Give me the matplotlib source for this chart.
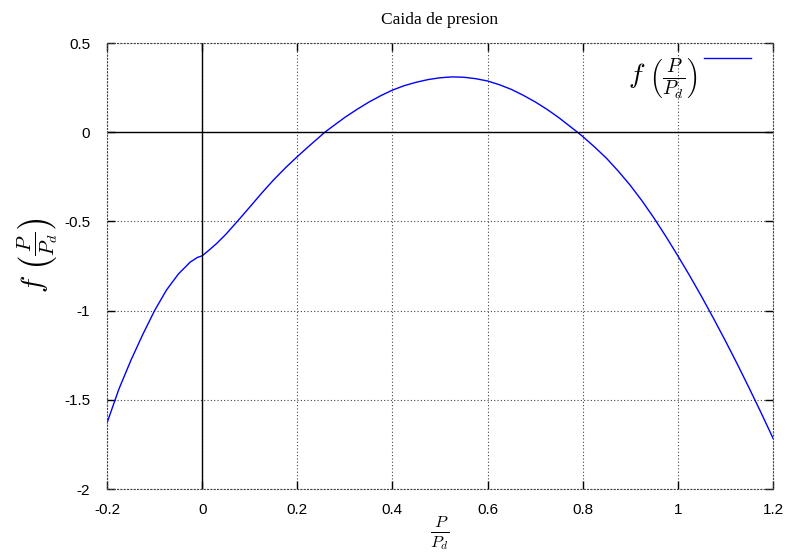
import numpy as np
import matplotlib.pyplot as plt

plt.rcParams['mathtext.fontset'] = 'cm'

# Valori citite ale functiei f(P/Pd)
p_ratio = [-0.200, -0.175, -0.150, -0.125, -0.100, -0.075, -0.050, -0.025,
           -0.010, 0.000, 0.015, 0.030, 0.050, 0.075, 0.100, 0.125, 0.150,
           0.175, 0.200, 0.225, 0.258, 0.275, 0.300, 0.325, 0.350, 0.375,
           0.400, 0.425, 0.450, 0.475, 0.500, 0.525, 0.550, 0.575, 0.600,
           0.625, 0.650, 0.675, 0.700, 0.725, 0.750, 0.775, 0.789, 0.800,
           0.825, 0.850, 0.875, 0.900, 0.925, 0.950, 0.975, 1.000, 1.025,
           1.050, 1.075, 1.100, 1.125, 1.150, 1.175, 1.200]
f_val = [-1.630, -1.440, -1.280, -1.135, -1.000, -0.885, -0.795, -0.728,
         -0.702, -0.693, -0.660, -0.625, -0.572, -0.497, -0.420, -0.342,
         -0.268, -0.200, -0.137, -0.077, 0.000, 0.034, 0.083, 0.127, 0.168,
         0.204, 0.236, 0.261, 0.280, 0.295, 0.305, 0.310, 0.308, 0.300,
         0.287, 0.266, 0.240, 0.207, 0.170, 0.128, 0.081, 0.029, 0.000,
         -0.024, -0.083, -0.146, -0.219, -0.298, -0.386, -0.482, -0.585,
         -0.693, -0.805, -0.922, -1.044, -1.170, -1.300, -1.435, -1.573,
         -1.715]

x_ticks = [-0.2, 0, 0.2, 0.4, 0.6, 0.8, 1, 1.2]
x_labels = ['-0.2', '0', '0.2', '0.4', '0.6', '0.8', '1', '1.2']
y_ticks = [-2, -1.5, -1, -0.5, 0, 0.5]
y_labels = ['-2', '-1.5', '-1', '-0.5', '0', '0.5']

fig = plt.figure(figsize=(7.91, 5.52), dpi=100)
ax = fig.add_axes([107/791, 1 - 489/552, 666/791, 446/552])

ax.plot(p_ratio, f_val, c='#0000ff', linewidth=1.0,
        label=r'$f\ \left(\frac{P}{P_d}\right)$')
ax.axvline(0, c='black', linewidth=1.0)  # axa OY
ax.axhline(0, c='black', linewidth=1.0)  # axa OX

ax.set_xlim(-0.2, 1.2)
ax.set_ylim(-2, 0.5)
ax.set_xticks(x_ticks)
ax.set_xticklabels(x_labels, family='Liberation Sans', fontsize=11)
ax.set_yticks(y_ticks)
ax.set_yticklabels(y_labels, family='Liberation Sans', fontsize=11)
ax.tick_params(direction='in', length=6, width=1.0, top=True, right=True)
ax.tick_params(axis='x', pad=10)
ax.tick_params(axis='y', pad=12)
ax.grid(True, linestyle=(0, (1, 2)), color='#444444', linewidth=0.8)
for s in ax.spines.values():
    s.set_linestyle((0, (1, 2)))
    s.set_color('#444444')
    s.set_linewidth(0.8)

ax.set_title('Caida de presion', family='Liberation Serif', fontsize=12.5,
             pad=14)
ax.set_xlabel(r'$\frac{P}{P_d}$', fontsize=17)
ax.xaxis.set_label_coords(0.5, -0.055)
ax.set_ylabel(r'$f\ \left(\frac{P}{P_d}\right)$', fontsize=21)
ax.yaxis.set_label_coords(-0.07, 0.525)

leg = ax.legend(loc='upper right', bbox_to_anchor=(0.988, 1.0),
                frameon=False, markerfirst=False, fontsize=20,
                handlelength=1.7, borderaxespad=0.1, handletextpad=0.2)
# linia din legenda sta sus, langa varful textului
h = leg.get_lines()[0]
yd = h.get_ydata()
h.set_ydata([v + 12 for v in yd])

plt.savefig('out.png', dpi=100)
